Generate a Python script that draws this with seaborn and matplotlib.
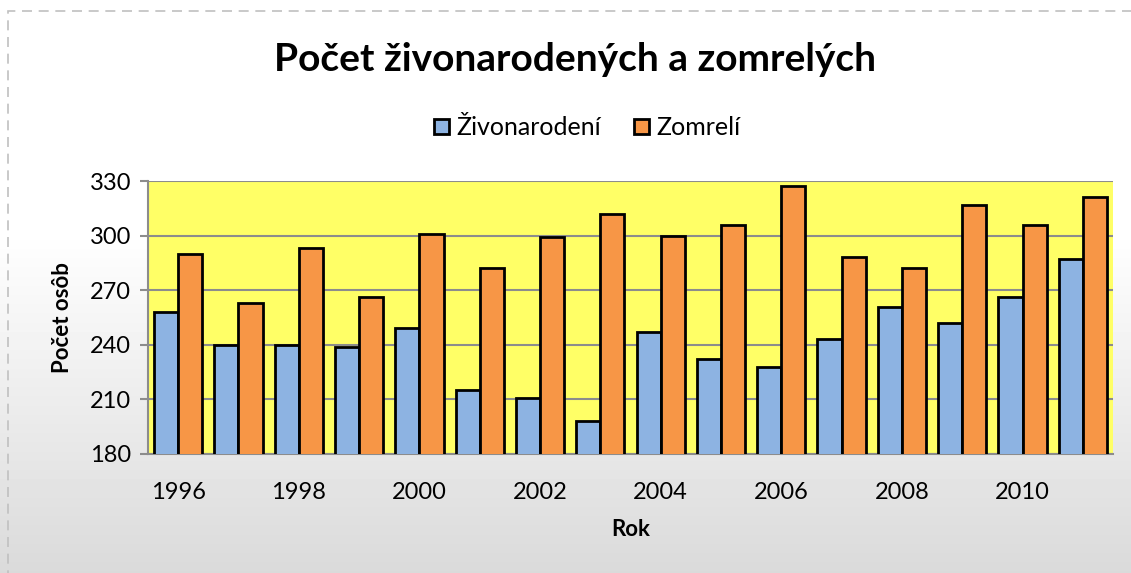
import numpy as np
import pandas as pd
import matplotlib
matplotlib.use("Agg")
import matplotlib.pyplot as plt
import seaborn as sns
from matplotlib.patches import Rectangle

# ----------------------------------------------------------------------
# DATA
# ----------------------------------------------------------------------
years = list(range(1996, 2012))
zivonarodeni = [258, 240, 240, 239, 249, 215, 211, 198, 247, 232, 228, 243, 261, 252, 266, 287]
zomreli = [290, 263, 293, 266, 301, 282, 299, 312, 300, 306, 327, 288, 282, 317, 306, 321]
series_names = ["Živonarodení", "Zomrelí"]
series_colors = ["#8DB3E2", "#F79646"]

df = pd.DataFrame({
    "Rok": years * 2,
    "Počet": zivonarodeni + zomreli,
    "Séria": [series_names[0]] * len(years) + [series_names[1]] * len(years),
})

# ----------------------------------------------------------------------
# FIGURE
# ----------------------------------------------------------------------
sns.set_style("white")
plt.rcParams["font.family"] = ["Lato", "DejaVu Sans"]
plt.rcParams["text.color"] = "black"
plt.rcParams["axes.labelcolor"] = "black"
plt.rcParams["xtick.color"] = "black"
plt.rcParams["ytick.color"] = "black"

fig = plt.figure(figsize=(11.31, 5.73), dpi=100)

# background gradient (white -> light gray)
bg = fig.add_axes([0, 0, 1, 1], zorder=-10)
grad = np.concatenate([np.ones(230), np.linspace(1.0, 0.855, 343)])[:, None]
bg.imshow(grad, aspect="auto", cmap="gray", vmin=0, vmax=1, extent=[0, 1, 0, 1])
bg.set_axis_off()
bg.add_patch(Rectangle((8 / 1131, -0.1), 1.2, 1.1 - 11 / 573, transform=bg.transAxes,
                       fill=False, ls=(0, (6, 4)), lw=1.2, ec="#c0c0c0"))

ax = fig.add_axes([148 / 1131, 119 / 573, 965 / 1131, 273 / 573])
ax.set_facecolor("#FFFF66")

sns.barplot(data=df, x="Rok", y="Počet", hue="Séria", palette=series_colors,
            width=0.8, edgecolor="black", linewidth=2, saturation=1, ax=ax, zorder=3)

ax.set_ylim(180, 330)
ax.set_yticks(np.arange(180, 331, 30))
ax.yaxis.grid(True, color="#8c8c8c", lw=1.5, zorder=0)
ax.set_axisbelow(True)
ax.set_xlim(-0.5, len(years) - 0.5)
ax.set_xticks(range(0, len(years), 2))
ax.set_xticklabels([str(y) for y in years[::2]])

for side in ["top", "right"]:
    ax.spines[side].set_visible(False)
for side in ["left", "bottom"]:
    ax.spines[side].set_color("#8c8c8c")
    ax.spines[side].set_linewidth(1.5)

ax.tick_params(axis="y", length=6, width=1.5, color="#8c8c8c", labelsize=17, pad=6,
               left=True, labelcolor="black")
ax.tick_params(axis="x", length=0, labelsize=17, pad=20, labelcolor="black")

ax.set_xlabel("Rok", fontsize=16, fontweight="bold", labelpad=12)
ax.set_ylabel("Počet osôb", fontsize=16, fontweight="bold", labelpad=12)

fig.text(0.508, 0.897, "Počet živonarodených a zomrelých", ha="center", va="center",
         fontsize=28, fontweight="bold", color="black")

handles, labels = ax.get_legend_handles_labels()
leg = ax.legend(handles, labels, loc="center", bbox_to_anchor=(0.455, 1.195), ncol=2,
                frameon=False, fontsize=18, handlelength=0.6, handleheight=0.6,
                handletextpad=0.3, columnspacing=1.3)

fig.savefig("out.png", dpi=100)
